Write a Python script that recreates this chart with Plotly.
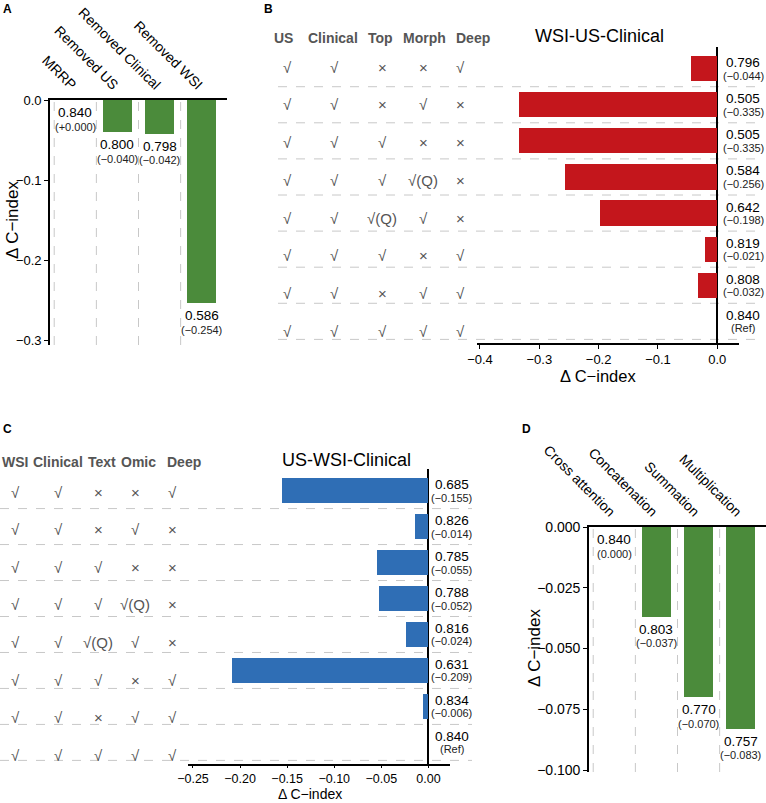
import plotly.graph_objects as go

W, H = 766, 803
FONT = "Liberation Sans, Arial, Helvetica, sans-serif"

# ---------------- data ----------------
a_models = ["MRRP", "Removed US", "Removed Clinical", "Removed WSI"]
a_cindex = [0.840, 0.800, 0.798, 0.586]
a_delta = [0.000, -0.040, -0.042, -0.254]
a_delta_text = ["(+0.000)", "(−0.040)", "(−0.042)", "(−0.254)"]

b_title = "WSI-US-Clinical"
b_columns = ["US", "Clinical", "Top", "Morph", "Deep"]
b_table = [
    ["√", "√", "×", "×", "√"],
    ["√", "√", "×", "√", "×"],
    ["√", "√", "√", "×", "×"],
    ["√", "√", "√", "√(Q)", "×"],
    ["√", "√", "√(Q)", "√", "×"],
    ["√", "√", "√", "×", "√"],
    ["√", "√", "×", "√", "√"],
    ["√", "√", "√", "√", "√"],
]
b_cindex = [0.796, 0.505, 0.505, 0.584, 0.642, 0.819, 0.808, 0.840]
b_delta = [-0.044, -0.335, -0.335, -0.256, -0.198, -0.021, -0.032, 0.000]
b_delta_text = ["(−0.044)", "(−0.335)", "(−0.335)", "(−0.256)", "(−0.198)",
                "(−0.021)", "(−0.032)", "(Ref)"]

c_title = "US-WSI-Clinical"
c_columns = ["WSI", "Clinical", "Text", "Omic", "Deep"]
c_table = [
    ["√", "√", "×", "×", "√"],
    ["√", "√", "×", "√", "×"],
    ["√", "√", "√", "×", "×"],
    ["√", "√", "√", "√(Q)", "×"],
    ["√", "√", "√(Q)", "√", "×"],
    ["√", "√", "√", "×", "√"],
    ["√", "√", "×", "√", "√"],
    ["√", "√", "√", "√", "√"],
]
c_cindex = [0.685, 0.826, 0.785, 0.788, 0.816, 0.631, 0.834, 0.840]
c_delta = [-0.155, -0.014, -0.055, -0.052, -0.024, -0.209, -0.006, 0.000]
c_delta_text = ["(−0.155)", "(−0.014)", "(−0.055)", "(−0.052)", "(−0.024)",
                "(−0.209)", "(−0.006)", "(Ref)"]

d_methods = ["Cross attention", "Concatenation", "Summation", "Multiplication"]
d_cindex = [0.840, 0.803, 0.770, 0.757]
d_delta = [0.000, -0.037, -0.070, -0.083]
d_delta_text = ["(0.000)", "(−0.037)", "(−0.070)", "(−0.083)"]

rows = list(range(1, 9))

# ---------------- styling ----------------
GREEN = "#4B8B3B"
RED = "#C4161C"
BLUE = "#2F6EB5"
GRID = "#C8C8C8"
TABLE_COL = "#555555"


def fx(px):
    return px / W


def fy(py):
    return 1 - py / H


fig = go.Figure()

fig.add_trace(go.Bar(x=a_models, y=a_delta, width=0.7, marker=dict(color=GREEN, line=dict(width=0)),
                     xaxis="x", yaxis="y", showlegend=False, hoverinfo="skip"))
fig.add_trace(go.Bar(x=b_delta, y=rows, orientation="h", width=0.7,
                     marker=dict(color=RED, line=dict(width=0)),
                     xaxis="x2", yaxis="y2", showlegend=False, hoverinfo="skip"))
fig.add_trace(go.Bar(x=c_delta, y=rows, orientation="h", width=0.7,
                     marker=dict(color=BLUE, line=dict(width=0)),
                     xaxis="x3", yaxis="y3", showlegend=False, hoverinfo="skip"))
fig.add_trace(go.Bar(x=d_methods, y=d_delta, width=0.7, marker=dict(color=GREEN, line=dict(width=0)),
                     xaxis="x4", yaxis="y4", showlegend=False, hoverinfo="skip"))

tickfont = dict(family=FONT, size=13, color="black")
common_line = dict(showline=True, linecolor="black", linewidth=1.6, showgrid=False,
                   zeroline=False, automargin=False)

layout = dict(
    width=W, height=H, margin=dict(l=0, r=0, t=0, b=0),
    paper_bgcolor="white", plot_bgcolor="white",
    font=dict(family=FONT, color="black"),
    bargap=0,
    # Panel A
    xaxis=dict(domain=[fx(50), fx(227)], range=[-0.6, 3.6], anchor="y", side="top",
               tickangle=45, ticks="", tickfont=dict(family=FONT, size=14, color="black"),
               **common_line),
    yaxis=dict(domain=[fy(345), fy(100)], range=[-0.30625, 0], anchor="x",
               tickvals=[0, -0.1, -0.2, -0.3], tickformat=".1f", ticks="outside",
               ticklen=4, tickwidth=1.4, tickcolor="black", tickfont=tickfont, **common_line),
    # Panel B
    xaxis2=dict(domain=[fx(477), fx(739)], range=[-0.405, 0.0366], anchor="y2",
                tickvals=[-0.4, -0.3, -0.2, -0.1, 0.0], tickformat=".1f", ticks="outside",
                ticklen=4, tickwidth=1.4, tickcolor="black", tickfont=tickfont,
                showline=True, linecolor="black", linewidth=1.6, showgrid=False,
                zeroline=True, zerolinecolor="black", zerolinewidth=2, automargin=False),
    yaxis2=dict(domain=[fy(343), fy(47)], range=[8.6, 0.4], anchor="x2",
                showticklabels=False, showline=False, showgrid=False, zeroline=False,
                ticks="", automargin=False),
    # Panel C
    xaxis3=dict(domain=[fx(188), fx(450)], range=[-0.2553, 0.0229], anchor="y3",
                tickvals=[-0.25, -0.2, -0.15, -0.1, -0.05, 0.0], tickformat=".2f",
                ticks="outside", ticklen=2, tickwidth=1.4, tickcolor="black",
                tickfont=dict(family=FONT, size=12.5, color="black"),
                showline=True, linecolor="black", linewidth=1.6, showgrid=False,
                zeroline=True, zerolinecolor="black", zerolinewidth=2, automargin=False),
    yaxis3=dict(domain=[fy(764), fy(469)], range=[8.6, 0.4], anchor="x3",
                showticklabels=False, showline=False, showgrid=False, zeroline=False,
                ticks="", automargin=False),
    # Panel D
    xaxis4=dict(domain=[fx(589), fx(766)], range=[-0.6, 3.6], anchor="y4", side="top",
                tickangle=45, ticks="", tickfont=dict(family=FONT, size=14, color="black"),
                **common_line),
    yaxis4=dict(domain=[fy(772), fy(527)], range=[-0.1008, 0], anchor="x4",
                tickvals=[0, -0.025, -0.05, -0.075, -0.1], tickformat=".3f", ticks="outside",
                ticklen=4, tickwidth=1.4, tickcolor="black",
                tickfont=dict(family=FONT, size=14, color="black"), **common_line),
)
fig.update_layout(**layout)

shapes = []
annotations = []

# vertical dashed separators for A and D
for i in range(len(a_models)):
    shapes.append(dict(type="line", xref="x", yref="y domain", x0=i - 0.5, x1=i - 0.5,
                       y0=0, y1=1, line=dict(color=GRID, width=1, dash="dash"), layer="below"))
for i in range(len(d_methods)):
    shapes.append(dict(type="line", xref="x4", yref="y4 domain", x0=i - 0.5, x1=i - 0.5,
                       y0=0, y1=1, line=dict(color=GRID, width=1, dash="dash"), layer="below"))

# horizontal dashed separators for B and C
for r in rows:
    shapes.append(dict(type="line", xref="paper", yref="y2", x0=fx(278), x1=fx(763),
                       y0=r + 0.5, y1=r + 0.5, line=dict(color=GRID, width=1, dash="dash"),
                       layer="below"))
    shapes.append(dict(type="line", xref="paper", yref="y3", x0=fx(0), x1=fx(472),
                       y0=r + 0.5, y1=r + 0.5, line=dict(color=GRID, width=1, dash="dash"),
                       layer="below"))


def add_text(x, y, text, size, color="black", bold=False, xref="paper", yref="paper",
             xanchor="center", yanchor="middle", yshift=0, textangle=0, borderpad=1):
    t = f"<b>{text}</b>" if bold else text
    annotations.append(dict(x=x, y=y, xref=xref, yref=yref, text=t, showarrow=False,
                            xanchor=xanchor, yanchor=yanchor, yshift=yshift,
                            textangle=textangle, borderpad=borderpad,
                            font=dict(family=FONT, size=size, color=color)))


# panel letters
add_text(fx(1), fy(0), "A", 12, bold=True, xanchor="left", yanchor="top")
add_text(fx(262), fy(0), "B", 12, bold=True, xanchor="left", yanchor="top")
add_text(fx(1), fy(420), "C", 12, bold=True, xanchor="left", yanchor="top")
add_text(fx(520), fy(420), "D", 12, bold=True, xanchor="left", yanchor="top")

# axis titles
add_text(fx(12), fy(220), "Δ C−index", 17, textangle=-90)
add_text(fx(598), fy(376), "Δ C−index", 16.5)
add_text(fx(310), fy(803), "Δ C−index", 14, yanchor="bottom", borderpad=0)
add_text(fx(534), fy(648), "Δ C−index", 17, textangle=-90)

# bar labels A & D
for cat, c, d, dt in zip(a_models, a_cindex, a_delta, a_delta_text):
    add_text(cat, d, f"{c:.3f}", 13.5, xref="x", yref="y", yshift=-12.5)
    add_text(cat, d, dt, 11, color="#222222", xref="x", yref="y", yshift=-26.5)
for cat, c, d, dt in zip(d_methods, d_cindex, d_delta, d_delta_text):
    add_text(cat, d, f"{c:.3f}", 13.5, xref="x4", yref="y4", yshift=-12.5)
    add_text(cat, d, dt, 11, color="#222222", xref="x4", yref="y4", yshift=-26.5)

# bar labels B & C
for r, c, dt in zip(rows, b_cindex, b_delta_text):
    add_text(fx(743), r, f"{c:.3f}", 13.5, yref="y2", yshift=6)
    add_text(fx(743), r, dt, 11, color="#222222", yref="y2", yshift=-7)
for r, c, dt in zip(rows, c_cindex, c_delta_text):
    add_text(fx(452), r, f"{c:.3f}", 13.5, yref="y3", yshift=6)
    add_text(fx(452), r, dt, 11, color="#222222", yref="y3", yshift=-7)

# titles of B and C
add_text(fx(599), fy(36), b_title, 18)
add_text(fx(346), fy(460), c_title, 18)

# tables
b_head_x = [283, 333, 380, 424, 473]
b_col_x = [287, 334, 382, 423, 461]
b_row_top, b_row_pitch = 67, 37.8
for name, hx in zip(b_columns, b_head_x):
    add_text(fx(hx), fy(38), name, 14, color=TABLE_COL, bold=True)
for i, row in enumerate(b_table):
    for sym, cx in zip(row, b_col_x):
        add_text(fx(cx), fy(b_row_top + i * b_row_pitch), sym, 15, color=TABLE_COL)

c_head_x = [15, 58, 102, 138, 184]
c_col_x = [15, 58, 98, 135, 172]
c_row_top, c_row_pitch = 492, 37.6
for name, hx in zip(c_columns, c_head_x):
    add_text(fx(hx), fy(462), name, 14, color=TABLE_COL, bold=True)
for i, row in enumerate(c_table):
    for sym, cx in zip(row, c_col_x):
        add_text(fx(cx), fy(c_row_top + i * c_row_pitch), sym, 15, color=TABLE_COL)

fig.update_layout(shapes=shapes, annotations=annotations)
fig.write_html("out.html")
